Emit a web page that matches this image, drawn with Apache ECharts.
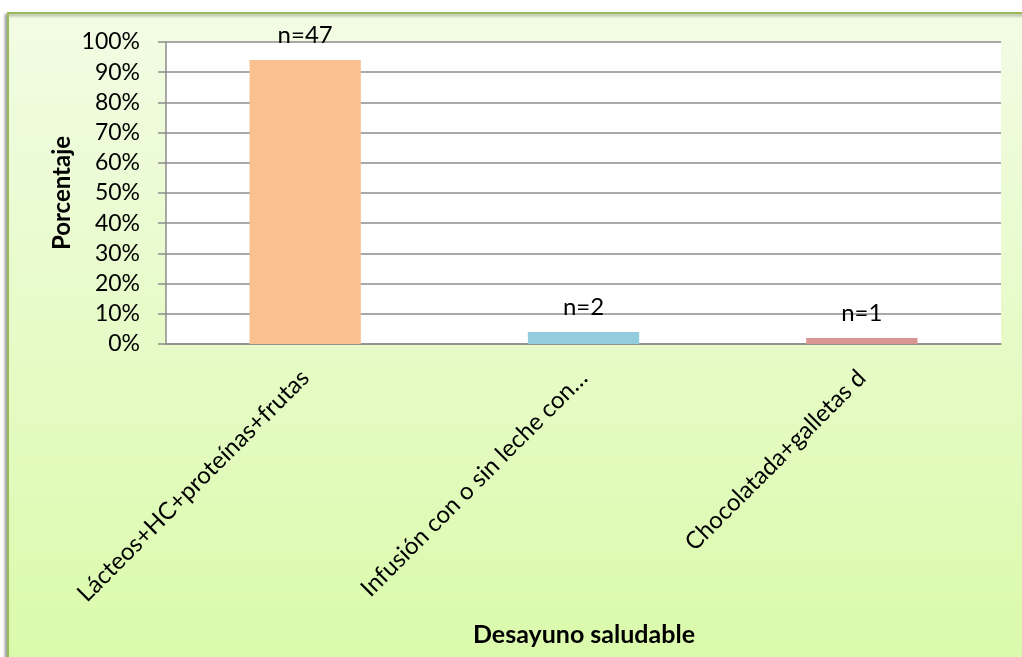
<!DOCTYPE html>
<html>
<head>
<meta charset="utf-8">
<script src="https://cdn.jsdelivr.net/npm/echarts@6/dist/echarts.min.js"></script>
<style>
  html, body { margin: 0; padding: 0; background: #ffffff; }
  #chart { width: 1022px; height: 657px; }
</style>
</head>
<body>
<div id="chart"></div>
<script>
// Desayuno saludable: porcentaje de respuestas por tipo de desayuno
const categories = [
  'Lácteos+HC+proteínas+frutas',
  'Infusión con o sin leche con…',
  'Chocolatada+galletas d'
];
const percentages = [94, 4, 2];
const counts = [47, 2, 1];
const barColors = ['#FAC090', '#93CDDD', '#D99594'];
const yTicks = [0, 10, 20, 30, 40, 50, 60, 70, 80, 90, 100];

const FONT = 'Lato, "Open Sans", sans-serif';

const chart = echarts.init(document.getElementById('chart'), null, { renderer: 'canvas' });

chart.setOption({
  animation: false,
  backgroundColor: '#ffffff',
  graphic: [
    {
      type: 'rect',
      z: -10,
      shape: { x: 8, y: 13, width: 1040, height: 680 },
      style: {
        fill: new echarts.graphic.LinearGradient(0, 0, 0, 1, [
          { offset: 0, color: '#F2FCE4' },
          { offset: 1, color: '#D9FAA8' }
        ]),
        stroke: '#9BBB59',
        lineWidth: 2,
        shadowColor: 'rgba(0,0,0,0.35)',
        shadowBlur: 3,
        shadowOffsetX: -2,
        shadowOffsetY: 2
      }
    },
    {
      type: 'rect',
      z: -5,
      shape: { x: 166, y: 42, width: 835, height: 302 },
      style: { fill: '#ffffff' }
    },
    {
      type: 'text',
      rotation: Math.PI / 2,
      style: {
        text: 'Porcentaje',
        font: 'bold 24px ' + FONT,
        fill: '#000',
        textAlign: 'center',
        textVerticalAlign: 'middle'
      },
      x: 62,
      y: 193
    },
    {
      type: 'text',
      style: {
        text: 'Desayuno saludable',
        font: 'bold 25px ' + FONT,
        fill: '#000',
        textAlign: 'center',
        textVerticalAlign: 'middle'
      },
      x: 584,
      y: 635
    }
  ],
  grid: { left: 166, right: 21, top: 42, bottom: 313, containLabel: false },
  xAxis: {
    type: 'category',
    data: categories,
    axisLine: { show: true, lineStyle: { color: '#8c8c8c', width: 1.5 } },
    axisTick: { show: false },
    axisLabel: {
      rotate: 45,
      interval: 0,
      margin: 30,
      fontSize: 24,
      fontFamily: FONT,
      color: '#000'
    }
  },
  yAxis: {
    type: 'value',
    min: 0,
    max: 100,
    interval: 10,
    axisLine: { show: true, lineStyle: { color: '#8c8c8c', width: 1.5 } },
    axisTick: { show: true, length: 8, lineStyle: { color: '#8c8c8c', width: 1.5 } },
    splitLine: { show: true, lineStyle: { color: '#8c8c8c', width: 1.5 } },
    axisLabel: {
      margin: 26,
      fontSize: 23,
      fontFamily: FONT,
      color: '#000',
      formatter: function (v) { return yTicks.indexOf(v) >= 0 ? v + '%' : ''; }
    }
  },
  series: [
    {
      type: 'bar',
      barWidth: '40%',
      data: percentages.map(function (v, i) {
        return { value: v, itemStyle: { color: barColors[i] } };
      }),
      label: {
        show: true,
        position: 'top',
        distance: 13,
        fontSize: 24,
        fontFamily: FONT,
        color: '#000',
        formatter: function (p) { return 'n=' + counts[p.dataIndex]; }
      }
    }
  ]
});
</script>
</body>
</html>
